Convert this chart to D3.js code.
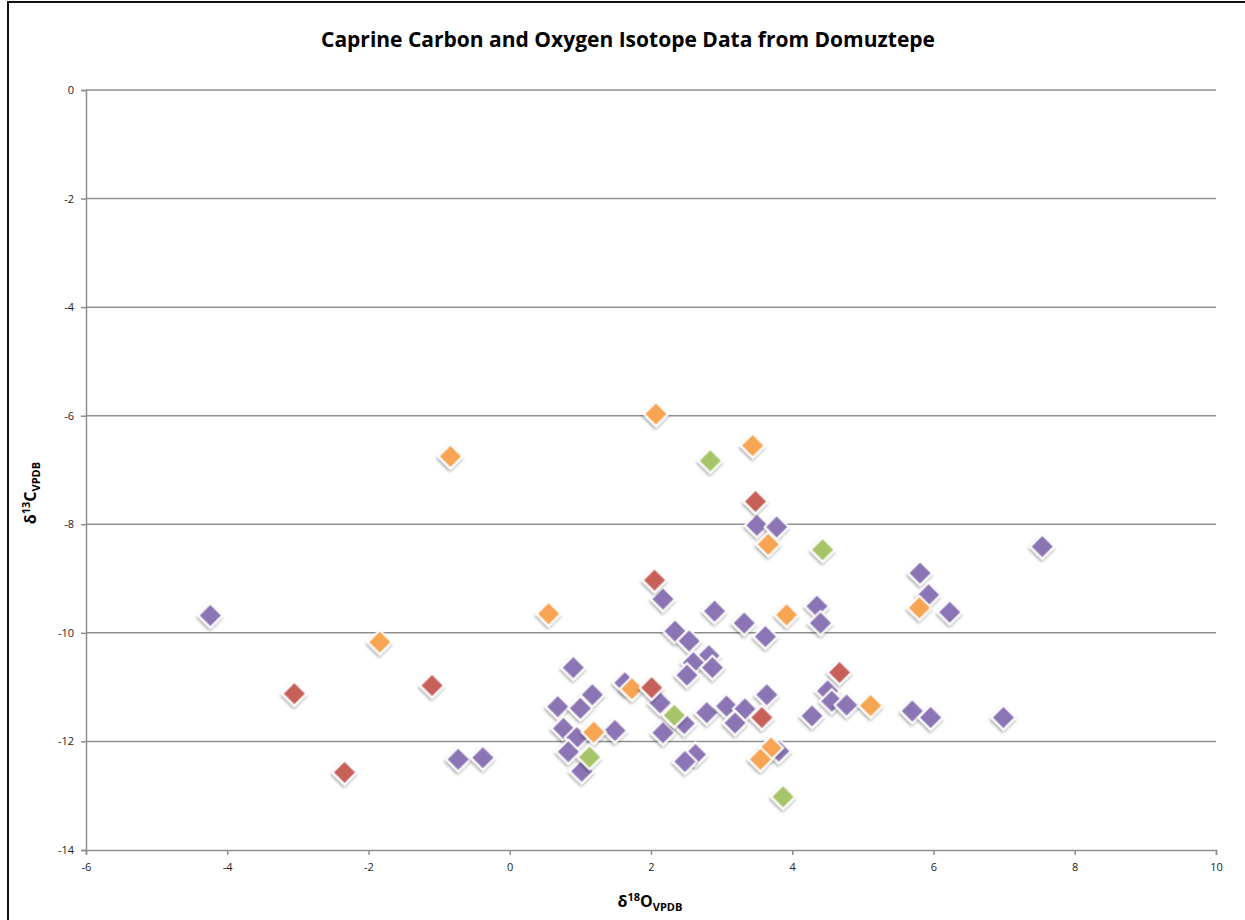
<!DOCTYPE html>
<html>
<head>
<meta charset="utf-8">
<script src="https://cdn.jsdelivr.net/npm/d3@7/dist/d3.min.js"></script>
<style>
  body { margin: 0; background: #fff; }
  svg text { font-family: "Open Sans", "Liberation Sans", sans-serif; }
</style>
</head>
<body>
<div id="chart"></div>
<script>
// delta18O (x) and delta13C (y) per group
var purpleX = [-4.24,-0.73,-0.38,0.90,0.68,1.17,1.00,0.76,0.95,1.49,0.83,1.02,1.63,2.13,2.17,2.17,2.90,3.32,3.62,2.34,2.54,2.82,2.60,2.87,2.51,2.47,2.79,3.07,3.33,3.19,3.64,2.63,2.48,3.81,3.50,3.78,4.35,4.40,4.50,4.56,4.77,4.28,7.54,5.81,5.93,6.23,5.70,5.96,6.99];
var purpleY = [-9.68,-12.33,-12.30,-10.64,-11.36,-11.14,-11.39,-11.76,-11.93,-11.80,-12.19,-12.55,-10.92,-11.29,-11.84,-9.38,-9.60,-9.82,-10.07,-9.97,-10.15,-10.42,-10.55,-10.64,-10.78,-11.67,-11.47,-11.35,-11.40,-11.66,-11.14,-12.24,-12.37,-12.18,-8.02,-8.05,-9.51,-9.82,-11.07,-11.26,-11.33,-11.53,-8.41,-8.90,-9.30,-9.62,-11.44,-11.56,-11.56];
var orangeX = [-0.84,2.07,3.44,3.66,-1.84,0.55,3.92,5.80,1.73,1.19,5.11,3.70,3.55];
var orangeY = [-6.75,-5.97,-6.55,-8.37,-10.17,-9.65,-9.67,-9.54,-11.03,-11.83,-11.34,-12.12,-12.33];
var redX = [-3.05,-1.10,-2.34,2.05,2.01,3.48,3.57,4.67];
var redY = [-11.12,-10.97,-12.57,-9.03,-11.01,-7.58,-11.56,-10.73];
var greenX = [2.84,4.43,2.33,1.13,3.87];
var greenY = [-6.83,-8.47,-11.52,-12.29,-13.02];

var xTicks = [-6,-4,-2,0,2,4,6,8,10];
var yTicks = [0,-2,-4,-6,-8,-10,-12,-14];

var chartTitle = "Caprine Carbon and Oxygen Isotope Data from Domuztepe";

var seriesList = [
  {x: purpleX, y: purpleY, color: "#8c75b5"},
  {x: orangeX, y: orangeY, color: "#f7a452"},
  {x: redX, y: redY, color: "#c8605a"},
  {x: greenX, y: greenY, color: "#a7c468"}
];

var W = 1245, H = 920;
var margin = {top: 90, right: 29, bottom: 70, left: 86};

var svg = d3.select("#chart").append("svg")
    .attr("width", W).attr("height", H);

var defs = svg.append("defs");
var shadow = defs.append("filter").attr("id", "shadow")
    .attr("x", "-50%").attr("y", "-50%").attr("width", "200%").attr("height", "200%");
shadow.append("feDropShadow")
    .attr("dx", 1).attr("dy", 2).attr("stdDeviation", 1.4)
    .attr("flood-color", "#000").attr("flood-opacity", 0.35);

// chart frame
svg.append("rect")
    .attr("x", 8).attr("y", 2)
    .attr("width", W + 20).attr("height", H + 20)
    .attr("fill", "none").attr("stroke", "#111").attr("stroke-width", 2);

var x = d3.scaleLinear().domain([-6, 10]).range([margin.left, W - margin.right]);
var y = d3.scaleLinear().domain([-14, 0]).range([H - margin.bottom, margin.top]);

svg.append("text")
    .attr("x", 628).attr("y", 47)
    .attr("text-anchor", "middle")
    .attr("font-size", "21px").attr("font-weight", "bold")
    .attr("fill", "#000")
    .text(chartTitle);

// horizontal gridlines
svg.append("g").selectAll("line")
    .data(yTicks.filter(function(d) { return d !== -14; }))
    .enter().append("line")
    .attr("x1", x(-6)).attr("x2", x(10))
    .attr("y1", function(d) { return y(d); })
    .attr("y2", function(d) { return y(d); })
    .attr("stroke", "#8f8f8f").attr("stroke-width", 1.5);

var plainNum = function(d) { return String(d); };
var yAxis = d3.axisLeft(y).tickValues(yTicks).tickSize(5).tickPadding(7).tickFormat(plainNum);
var xAxis = d3.axisBottom(x).tickValues(xTicks).tickSize(5).tickPadding(8).tickFormat(plainNum);

var gy = svg.append("g").attr("transform", "translate(" + margin.left + ",0)").call(yAxis);
var gx = svg.append("g").attr("transform", "translate(0," + (H - margin.bottom) + ")").call(xAxis);

[gx, gy].forEach(function(g) {
  g.select(".domain").attr("stroke", "#8f8f8f").attr("stroke-width", 1.5);
  g.selectAll(".tick line").attr("stroke", "#8f8f8f").attr("stroke-width", 1.5);
  g.selectAll(".tick text").attr("font-size", "11px").attr("fill", "#222")
    .attr("font-family", "'Open Sans', sans-serif");
});

// axis titles
var xt = svg.append("text")
    .attr("x", 650).attr("y", 907)
    .attr("text-anchor", "middle")
    .attr("font-size", "16px").attr("font-weight", "bold");
xt.append("tspan").text("\u03B4");
xt.append("tspan").attr("font-size", "11px").attr("dy", -6).text("18");
xt.append("tspan").attr("dy", 6).text("O");
xt.append("tspan").attr("font-size", "11px").attr("dy", 4).text("VPDB");

var yt = svg.append("text")
    .attr("transform", "translate(36,493) rotate(-90)")
    .attr("text-anchor", "middle")
    .attr("font-size", "16px").attr("font-weight", "bold");
yt.append("tspan").text("\u03B4");
yt.append("tspan").attr("font-size", "11px").attr("dy", -6).text("13");
yt.append("tspan").attr("dy", 6).text("C");
yt.append("tspan").attr("font-size", "11px").attr("dy", 4).text("VPDB");

// diamond markers
var diamond = d3.symbol().type(d3.symbolSquare).size(17 * 17);

seriesList.forEach(function(s) {
  var pts = s.x.map(function(v, i) { return [v, s.y[i]]; });
  svg.append("g").selectAll("path")
      .data(pts)
      .enter().append("path")
      .attr("d", diamond)
      .attr("transform", function(d) { return "translate(" + x(d[0]) + "," + y(d[1]) + ") rotate(45)"; })
      .attr("fill", s.color)
      .attr("stroke", "#fff").attr("stroke-width", 2)
      .attr("filter", "url(#shadow)");
});
</script>
</body>
</html>
